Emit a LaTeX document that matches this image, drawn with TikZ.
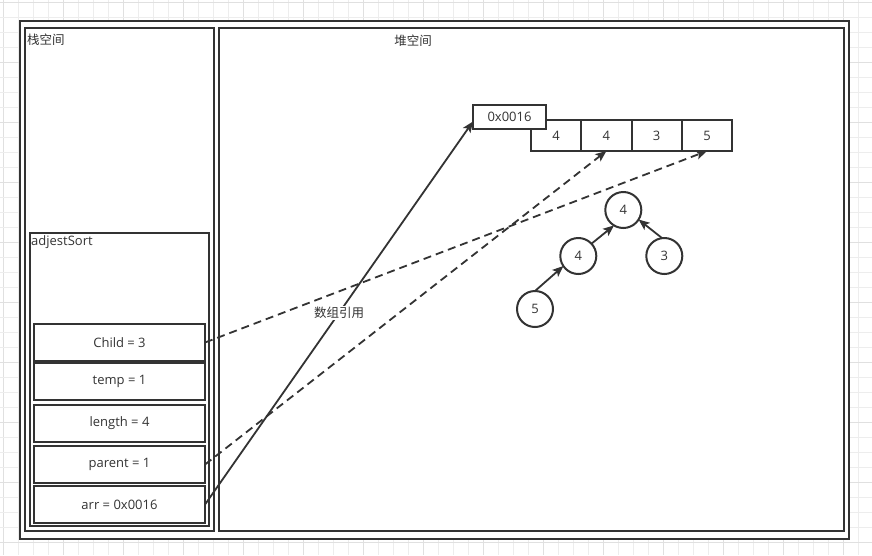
\documentclass[tikz,border=0pt]{standalone}
\usepackage{fontspec}
\setmainfont{Open Sans}
\newfontfamily\cjk{Noto Sans CJK SC}
\usetikzlibrary{arrows.meta}
\definecolor{ln}{HTML}{333333}
\definecolor{gridminor}{HTML}{EDEDED}
\definecolor{gridmajor}{HTML}{E0E0E0}
\tikzset{
  box/.style={draw=ln, line width=2pt, fill=white, inner sep=0pt, outer sep=0pt},
  varbox/.style={box, minimum width=171pt, minimum height=37pt, font=\fontsize{13}{15}\selectfont, text=ln},
  cell/.style={box, minimum width=50.3pt, minimum height=31pt, font=\fontsize{13}{15}\selectfont, text=ln},
  circ/.style={draw=ln, line width=2pt, fill=white, circle, minimum size=36pt, inner sep=0pt, outer sep=0pt, font=\fontsize{13}{15}\selectfont, text=ln},
  lbl/.style={inner sep=0pt, text=ln, font=\fontsize{13}{15}\selectfont},
  cjklbl/.style={inner sep=0pt, text=ln, font=\cjk\fontsize{12.5}{15}\selectfont},
  conn/.style={draw=ln, line width=1.8pt, -{Stealth[length=11pt,width=9pt,inset=2.5pt]}},
  dconn/.style={conn, dash pattern=on 8pt off 5pt},
}
\begin{document}
\begin{tikzpicture}[x=1pt,y=-1pt]
\useasboundingbox (0,0) rectangle (872,555);
\fill[white] (0,0) rectangle (872,555);
% grid
\foreach \k in {0,...,58} {
  \pgfmathtruncatemacro{\m}{mod(\k,4)}
  \ifnum\m=0
    \draw[gridmajor, line width=1pt] (3+15*\k,0) -- (3+15*\k,555);
  \else
    \draw[gridminor, line width=1pt] (3+15*\k,0) -- (3+15*\k,555);
  \fi
}
\foreach \k in {0,...,37} {
  \pgfmathtruncatemacro{\m}{mod(\k,4)}
  \ifnum\m=0
    \draw[gridmajor, line width=1pt] (0,2.7+15*\k) -- (872,2.7+15*\k);
  \else
    \draw[gridminor, line width=1pt] (0,2.7+15*\k) -- (872,2.7+15*\k);
  \fi
}
% frames
\node[box, minimum width=829pt, minimum height=518pt] (outer) at (434.5,280) {};
\node[box, minimum width=189pt, minimum height=503pt] (stack) at (119.5,279.5) {};
\node[box, minimum width=625pt, minimum height=503pt] (heap) at (531.5,279.5) {};
\node[cjklbl, anchor=west] (stacklbl) at (27,40) {栈空间};
\node[cjklbl] (heaplbl) at (413,41) {堆空间};
\node[box, minimum width=179pt, minimum height=293pt] (adj) at (119.5,379.5) {};
\node[lbl, anchor=west] (adjlbl) at (31,242) {adjestSort};
% variables
\node[varbox] (child) at (119.5,342.5) {Child = 3};
\node[varbox] (temp) at (119.5,381) {temp = 1};
\node[varbox] (length) at (119.5,423.5) {length = 4};
\node[varbox] (parent) at (119.5,464.5) {parent = 1};
\node[varbox] (arr) at (119.5,504.5) {arr = 0x0016};
% array
\node[cell] (c1) at (556.1,135.5) {4};
\node[cell] (c2) at (606.4,135.5) {4};
\node[cell] (c3) at (656.7,135.5) {3};
\node[cell] (c4) at (707,135.5) {5};
\node[box, minimum width=73pt, minimum height=24pt, font=\fontsize{13}{15}\selectfont, text=ln] (addr) at (509.5,117) {0x0016};
% heap tree
\node[circ] (t1) at (623.3,210) {4};
\node[circ] (t2) at (578.3,256) {4};
\node[circ] (t3) at (664.3,256) {3};
\node[circ] (t4) at (535,309) {5};
\draw[conn] (t4.north) -- (t2.214);
\draw[conn] (t2.43) -- (t1.239);
\draw[conn] (t3.97) -- (t1.328);
% references
\draw[conn] (arr.east) -- node[cjklbl, fill=white, inner sep=1pt] (reflbl) {数组引用} (addr.187);
\draw[dconn] (parent.east) -- (c2.south);
\draw[dconn] (child.east) -- (c4.south);
\end{tikzpicture}
\end{document}
